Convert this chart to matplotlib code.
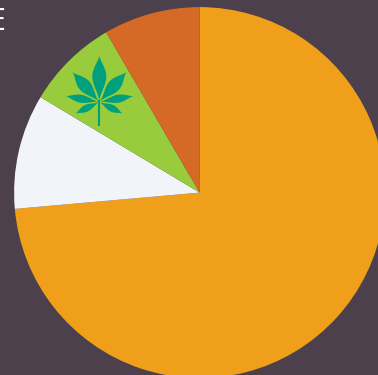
import numpy as np
import matplotlib
matplotlib.use("Agg")
import matplotlib.pyplot as plt
from matplotlib.patches import Polygon

# Share of each slice, clockwise from twelve o'clock
slice_shares = [73.6, 10.0, 8.0, 8.4]
slice_colors = ["#EF9F1A", "#F1F4F8", "#99CC3D", "#D46A25"]
heading = "E"

BG = "#4B404B"
LEAF = "#00A07C"
W, H = 378, 375

fig = plt.figure(figsize=(W / 100, H / 100), dpi=100, facecolor=BG)
ax = fig.add_axes([0, 0, 1, 1])
ax.pie(slice_shares, colors=slice_colors, center=(199.6, H - 192.6), radius=185.5,
       startangle=90, counterclock=False, wedgeprops={"linewidth": 0})
ax.set_xlim(0, W)
ax.set_ylim(0, H)
ax.set_aspect("equal")
ax.axis("off")


def leaflet(base, tip, width):
    """Pointed leaflet between two pixel positions, widest near its middle."""
    base = np.array([base[0], H - base[1]], float)
    tip = np.array([tip[0], H - tip[1]], float)
    axis = tip - base
    normal = np.array([-axis[1], axis[0]]) / np.hypot(*axis)
    t = np.linspace(0, 1, 40)
    half = width / 2 * np.sin(np.pi * t ** 1.15) ** 1.5
    side_a = base + np.outer(t, axis) + np.outer(half, normal)
    side_b = base + np.outer(t, axis) - np.outer(half, normal)
    return Polygon(np.vstack([side_a, side_b[::-1]]), closed=True, fc=LEAF, ec="none", zorder=3)


# Cannabis leaf emblem: seven leaflets on a short stem
node = (99.3, 102)
for tip, width in [((99.3, 55.5), 14), ((72.5, 72), 12.5), ((126.5, 72), 12.5),
                   ((65.5, 96), 8), ((133.5, 96), 8),
                   ((75.5, 113.5), 7), ((122.5, 113.5), 7)]:
    ax.add_patch(leaflet(node, tip, width))
ax.plot([99.3, 99.3], [H - 100, H - 126], color=LEAF, lw=1.5, solid_capstyle="butt", zorder=3)

ax.text(5.5, H - 30.5, heading, color="white", ha="right", va="baseline",
        fontsize=22, family="Open Sans")

fig.savefig("out.png", dpi=100, facecolor=BG)
